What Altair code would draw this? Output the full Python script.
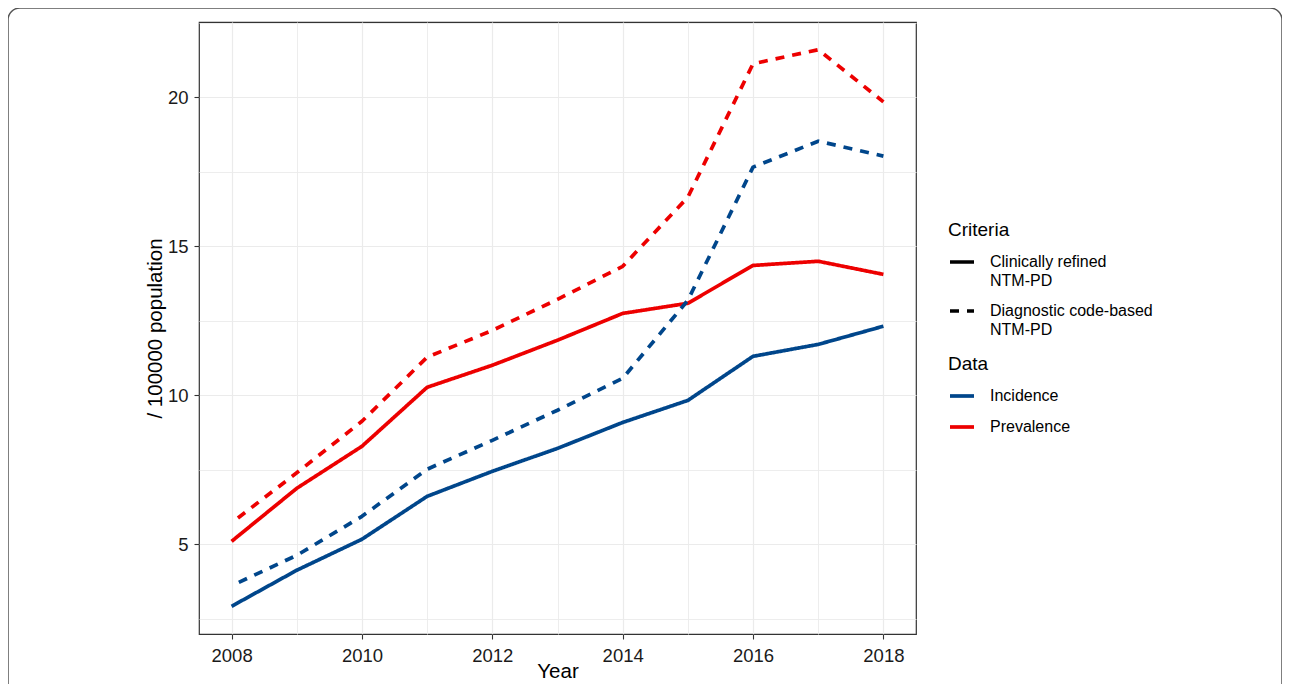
import altair as alt
import pandas as pd

years = list(range(2008, 2019))
incidence_clinical = [2.92, 4.13, 5.17, 6.61, 7.45, 8.22, 9.09, 9.83, 11.31, 11.71, 12.32]
prevalence_clinical = [5.10, 6.88, 8.29, 10.27, 11.01, 11.85, 12.75, 13.09, 14.36, 14.50, 14.06]
incidence_code = [3.61, 4.63, 5.94, 7.52, 8.49, 9.50, 10.57, 13.19, 17.66, 18.53, 18.03]
prevalence_code = [5.72, 7.40, 9.13, 11.28, 12.18, 13.22, 14.33, 16.65, 21.13, 21.60, 19.85]

criteria_names = ["Clinically refined NTM-PD", "Diagnostic code-based NTM-PD"]
data_names = ["Incidence", "Prevalence"]
x_ticks = list(range(2008, 2019))
y_ticks = [2.5, 5, 7.5, 10, 12.5, 15, 17.5, 20, 22.5]

rows = []
for crit, dname, vals in [
    (criteria_names[0], "Incidence", incidence_clinical),
    (criteria_names[0], "Prevalence", prevalence_clinical),
    (criteria_names[1], "Incidence", incidence_code),
    (criteria_names[1], "Prevalence", prevalence_code),
]:
    for yr, v in zip(years, vals):
        rows.append({"Year": yr, "Value": v, "Data": dname, "Criteria": crit})
df = pd.DataFrame(rows)

FONT = "Liberation Sans"

frame = alt.Chart(pd.DataFrame({"k": [0]})).mark_rect(
    cornerRadius=12, fillOpacity=0, stroke="#555555", strokeWidth=1.5
).encode(
    x=alt.value(-191), x2=alt.value(1083), y=alt.value(-14), y2=alt.value(720)
)

lines = alt.Chart(df).mark_line(strokeWidth=3.7, strokeJoin="round", strokeDashOffset=9).encode(
    x=alt.X(
        "Year:Q",
        scale=alt.Scale(domain=[2007.5, 2018.5], nice=False, zero=False),
        axis=alt.Axis(
            values=x_ticks,
            format="d",
            labelExpr="datum.value % 2 == 0 ? datum.label : ''",
            tickOpacity={"condition": {"test": "datum.value % 2 != 0", "value": 0}, "value": 1},
            gridWidth={"condition": {"test": "datum.value % 2 != 0", "value": 0.9}, "value": 1.2},
            labelPadding=7,
            titlePadding=-3,
            title="Year",
        ),
    ),
    y=alt.Y(
        "Value:Q",
        scale=alt.Scale(domain=[1.99, 22.53], nice=False, zero=False),
        axis=alt.Axis(
            values=y_ticks,
            labelExpr="datum.value % 5 == 0 ? datum.label : ''",
            tickOpacity={"condition": {"test": "datum.value % 5 != 0", "value": 0}, "value": 1},
            gridWidth={"condition": {"test": "datum.value % 5 != 0", "value": 0.9}, "value": 1.2},
            labelPadding=6,
            titlePadding=2,
            title="/ 100000 population",
        ),
    ),
    color=alt.Color(
        "Data:N",
        scale=alt.Scale(domain=data_names, range=["#00468B", "#ED0000"]),
        legend=alt.Legend(
            title="Data",
            orient="none",
            legendX=749,
            legendY=333,
            symbolType="stroke",
            symbolStrokeWidth=3.7,
            symbolSize=576,
            titlePadding=8,
            rowPadding=9,
            labelOffset=14,
            padding=0,
        ),
    ),
    strokeDash=alt.StrokeDash(
        "Criteria:N",
        scale=alt.Scale(domain=criteria_names, range=[[1, 0], [9, 8]]),
        legend=alt.Legend(
            title="Criteria",
            orient="none",
            legendX=749,
            legendY=199,
            symbolType="stroke",
            symbolStrokeColor="black",
            symbolStrokeWidth=3.7,
            symbolSize=576,
            titlePadding=8,
            rowPadding=8,
            labelOffset=14,
            padding=0,
            labelLimit=400,
            labelExpr="datum.label == 'Clinically refined NTM-PD' ? ['Clinically refined', 'NTM-PD'] : ['Diagnostic code-based', 'NTM-PD']",
        ),
    ),
)

chart = alt.layer(frame, lines).properties(
    width=717,
    height=612,
    autosize=alt.AutoSizeParams(type="none"),
    padding={"left": 191, "top": 14, "right": 366, "bottom": 50},
).configure(
    font=FONT,
    background="white",
    style={"guide-label": {"lineHeight": 18.5}},
).configure_view(
    stroke="#333333", strokeWidth=1.2
).configure_axis(
    domain=False,
    grid=True,
    gridColor="#EBEBEB",
    tickColor="#333333",
    tickSize=5,
    tickWidth=1.1,
    labelFont=FONT,
    labelFontSize=18.5,
    labelColor="#1a1a1a",
    titleFont=FONT,
    titleFontSize=20.5,
    titleFontWeight="normal",
    titleColor="#000000",
).configure_legend(
    titleFont=FONT,
    titleFontSize=19,
    titleFontWeight="normal",
    titleColor="#000000",
    labelFont=FONT,
    labelFontSize=16,
    labelColor="#000000",
)

chart.save("out.html", embed_options={"renderer": "svg", "actions": False})
